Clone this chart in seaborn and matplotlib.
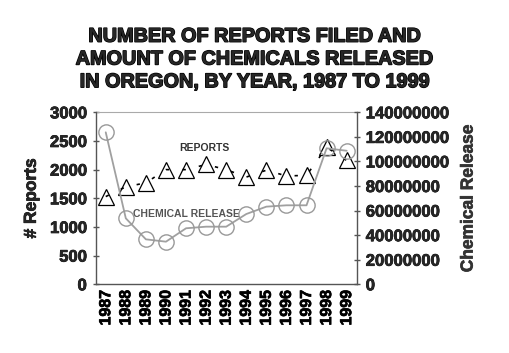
import matplotlib
matplotlib.use("Agg")
import matplotlib.pyplot as plt
import matplotlib.patheffects as pe
import seaborn as sns
import pandas as pd
import numpy as np

years = ["1987", "1988", "1989", "1990", "1991", "1992", "1993",
         "1994", "1995", "1996", "1997", "1998", "1999"]
reports = [1530, 1700, 1770, 2000, 2000, 2090, 2000, 1870, 1990, 1890, 1900, 2390, 2160]
chemical_release = [123.7e6, 53.7e6, 36.6e6, 34.7e6, 45.6e6, 46.9e6, 46.9e6,
                    57.2e6, 63.2e6, 64.3e6, 64.3e6, 110.7e6, 108.7e6]
left_ticks = [0, 500, 1000, 1500, 2000, 2500, 3000]
right_ticks = [0, 20000000, 40000000, 60000000, 80000000, 100000000, 120000000, 140000000]

df = pd.DataFrame({"year": years, "reports": reports, "release": chemical_release})
df["x"] = np.arange(len(years))

sns.set_theme(style="white")
plt.rcParams["font.family"] = ["Liberation Sans", "DejaVu Sans"]
plt.rcParams["font.weight"] = "bold"

fig = plt.figure(figsize=(5.10, 3.53), dpi=100)
ax = fig.add_axes([95.7 / 510, 1 - 284.3 / 353, (356.7 - 95.7) / 510, (284.3 - 112.3) / 353])
ax2 = ax.twinx()

# Reports: dashed black line with hollow triangles
sns.lineplot(data=df, x="x", y="reports", ax=ax, color="black", linewidth=1.2,
             linestyle=(0, (2, 8)), marker="^", markersize=11,
             markerfacecolor="none", markeredgecolor="black", markeredgewidth=0.9,
             legend=False)
# Chemical release: gray line with hollow circles
sns.lineplot(data=df, x="x", y="release", ax=ax2, color="#a0a0a0", linewidth=1.3,
             marker="o", markersize=11, markerfacecolor="none",
             markeredgecolor="#999999", markeredgewidth=1.0, legend=False)

ax.set_xlim(-0.5, len(years) - 0.5)
ax.set_ylim(0, 3000)
ax2.set_ylim(0, 140000000)
heavy = [pe.withStroke(linewidth=0.5, foreground="black")]
ax.set_yticks(left_ticks)
ax.set_yticklabels([str(t) for t in left_ticks], fontsize=12, fontweight="bold", path_effects=heavy)
ax2.set_yticks(right_ticks)
ax2.set_yticklabels([str(t) for t in right_ticks], fontsize=12, fontweight="bold", path_effects=heavy)
ax.set_xticks(df["x"])
ax.set_xticklabels(years, rotation=90, fontsize=11.5, fontweight="bold", path_effects=heavy)
ax.set_xticks(np.arange(-0.5, len(years), 1.0), minor=True)

for a in (ax, ax2):
    for s in a.spines.values():
        s.set_visible(False)
ax.spines["left"].set_visible(True)
ax.spines["bottom"].set_visible(True)
ax2.spines["right"].set_visible(True)
for s in (ax.spines["left"], ax.spines["bottom"], ax2.spines["right"]):
    s.set_color("#555555")
    s.set_linewidth(1.0)
ax.axhline(3000, color="#aaaaaa", linewidth=0.8, clip_on=False)

ax.tick_params(axis="x", which="major", length=0, pad=4, colors="black")
ax.tick_params(axis="x", which="minor", length=5, direction="inout", color="#555555", width=1)
ax.tick_params(axis="y", length=5, direction="inout", color="#555555", width=1, pad=4)
ax2.tick_params(axis="y", length=5, direction="inout", color="#555555", width=1, pad=4)

ax.set_xlabel("")
ax.set_ylabel("# Reports", fontsize=12.5, fontweight="bold", labelpad=8, path_effects=heavy)
ax2.set_ylabel("Chemical Release", fontsize=12.5, fontweight="bold", labelpad=9,
               path_effects=[pe.withStroke(linewidth=0.5, foreground="#333333")], color="#333333")

ax.text(4.9, 2380, "REPORTS", fontsize=7.5, fontweight="bold", color="#333333", ha="center", va="center")
ax.text(4.0, 1230, "CHEMICAL RELEASE", fontsize=7.5, fontweight="bold", color="#555555", ha="center", va="center")

fig.text(0.5, 1 - 59 / 353,
         "NUMBER OF REPORTS FILED AND\nAMOUNT OF CHEMICALS RELEASED\nIN OREGON, BY YEAR, 1987 TO 1999",
         ha="center", va="center", fontsize=14.3, fontweight="bold", linespacing=1.25,
         path_effects=[pe.withStroke(linewidth=1.0, foreground="black")])

fig.savefig("out.png", dpi=100, facecolor="white")
